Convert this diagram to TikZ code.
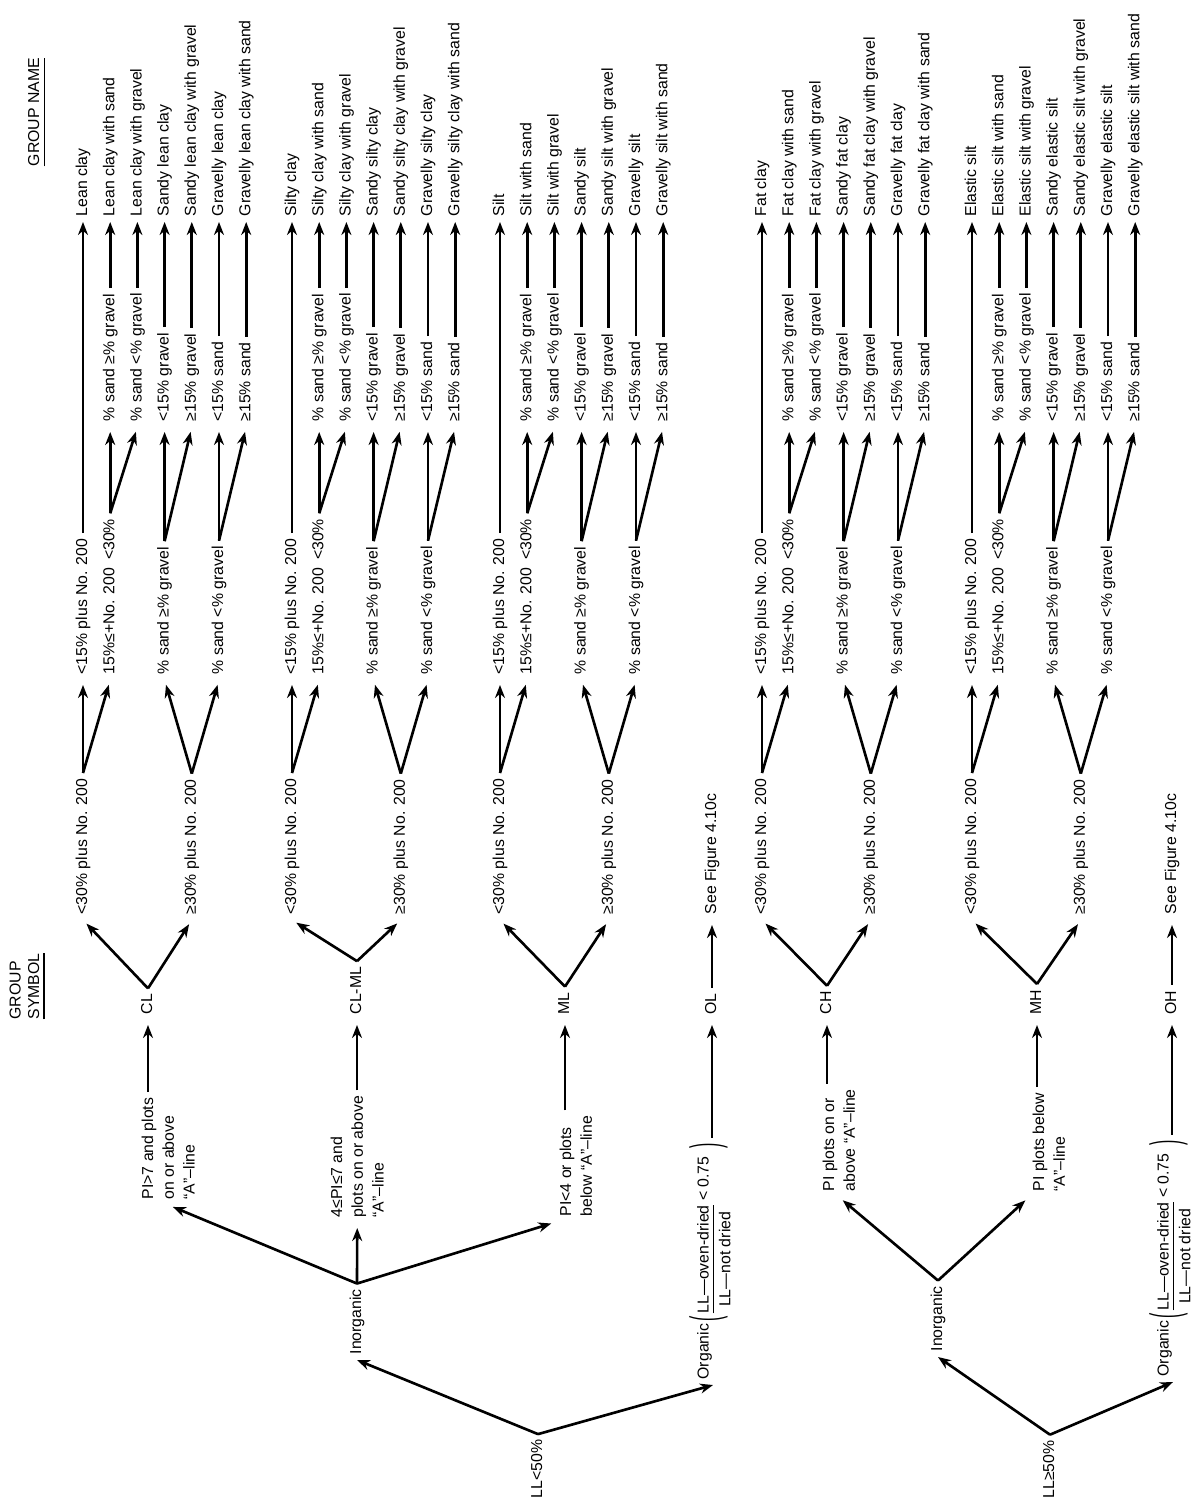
\documentclass[tikz,border=0pt]{standalone}
\usepackage{fontspec}
\usepackage{graphicx}
\setmainfont{Liberation Sans}
\usetikzlibrary{arrows.meta}

\begin{document}
\begin{tikzpicture}[
    x=1cm, y=-1cm,
    lbl/.style={rotate=90, anchor=west, inner xsep=0.5mm, inner ysep=0.3mm, font=\fontsize{4.5}{5.9}\selectfont},
    soil/.style={lbl, text height=3.3pt, text depth=0.95pt},
    cond/.style={lbl, align=left, anchor=north west},
    arrow/.style={-{Stealth[length=1.3mm, width=1mm]}, line width=0.75pt},
    gap/.style={shorten >=0.5mm}
]
\useasboundingbox (0,0) rectangle (11.91,15.04);

% Column headings
\node[soil] (gname) at (0.35, 1.72) {\underline{GROUP NAME}};
\node[cond, font=\fontsize{4.5}{5.2}\selectfont] (gsym) at (0.06, 10.25) {GROUP\\\underline{SYMBOL}};

% Group symbol -> fines -> sand/gravel -> group name
\foreach \gp/\row/\sym/\Nm/\nm in {cl/0.83/CL/Lean clay/lean clay, cm/2.92/CL-ML/Silty clay/silty clay, ml/5.00/ML/Silt/silt, ch/7.62/CH/Fat clay/fat clay, mh/9.72/MH/Elastic silt/elastic silt}{
    \node[soil] (\gp-sym) at (\row+0.65, 10.20) {\sym};

    \node[soil] (\gp-lt30) at (\row, 9.20) {<30\% plus No. 200};
    \node[soil] (\gp-ge30) at (\row+1.088, 9.20) {≥30\% plus No. 200};

    \node[soil] (\gp-lt15) at (\row, 6.80) {<15\% plus No. 200};
    \node[soil] (\gp-mid) at (\row+0.272, 6.80) {15\%≤+No. 200\enspace<30\%};
    \node[soil] (\gp-sge) at (\row+0.816, 6.80) {\% sand ≥\% gravel};
    \node[soil] (\gp-slt) at (\row+1.36, 6.80) {\% sand <\% gravel};

    \node[soil] (\gp-c1) at (\row+0.272, 4.27) {\% sand ≥\% gravel};
    \node[soil] (\gp-c2) at (\row+0.544, 4.27) {\% sand <\% gravel};
    \node[soil] (\gp-c3) at (\row+0.816, 4.27) {<15\% gravel};
    \node[soil] (\gp-c4) at (\row+1.088, 4.27) {≥15\% gravel};
    \node[soil] (\gp-c5) at (\row+1.36, 4.27) {<15\% sand};
    \node[soil] (\gp-c6) at (\row+1.632, 4.27) {≥15\% sand};

    \node[soil] (\gp-n0) at (\row, 2.22) {\Nm};
    \node[soil] (\gp-n1) at (\row+0.272, 2.22) {\Nm{} with sand};
    \node[soil] (\gp-n2) at (\row+0.544, 2.22) {\Nm{} with gravel};
    \node[soil] (\gp-n3) at (\row+0.816, 2.22) {Sandy \nm};
    \node[soil] (\gp-n4) at (\row+1.088, 2.22) {Sandy \nm{} with gravel};
    \node[soil] (\gp-n5) at (\row+1.36, 2.22) {Gravelly \nm};
    \node[soil] (\gp-n6) at (\row+1.632, 2.22) {Gravelly \nm{} with sand};

    \draw[arrow, gap] (\gp-sym.east) -- (\gp-lt30.west);
    \draw[arrow, gap] (\gp-sym.east) -- (\gp-ge30.west);
    \draw[arrow, gap] (\gp-lt30.east) -- (\gp-lt15.west);
    \draw[arrow, gap] (\gp-lt30.east) -- (\gp-mid.west);
    \draw[arrow, gap] (\gp-ge30.east) -- (\gp-sge.west);
    \draw[arrow, gap] (\gp-ge30.east) -- (\gp-slt.west);
    \draw[arrow, gap] (\gp-mid.east) -- (\gp-c1.west);
    \draw[arrow, gap] (\gp-mid.east) -- (\gp-c2.west);
    \draw[arrow, gap] (\gp-sge.east) -- (\gp-c3.west);
    \draw[arrow, gap] (\gp-sge.east) -- (\gp-c4.west);
    \draw[arrow, gap] (\gp-slt.east) -- (\gp-c5.west);
    \draw[arrow, gap] (\gp-slt.east) -- (\gp-c6.west);
    \draw[arrow] (\gp-lt15.east) -- (\gp-n0.west);
    \foreach \k in {1,...,6}
        \draw[arrow] (\gp-c\k.east) -- (\gp-n\k.west);
}

% LL < 50%
\node[soil] (root1) at (5.38, 15.04) {LL<50\%};
\node[soil] (inorg1) at (3.57, 13.60) {Inorganic};
\node[lbl] (org1) at (7.13, 13.85) {Organic\,\raisebox{-3pt}{\scalebox{1}[2.6]{(}}\,\begin{tabular}[t]{@{}c@{}}\underline{LL—oven-dried}\\[0.2pt]LL—not dried\end{tabular} < 0.75\enspace\raisebox{-3pt}{\scalebox{1}[2.6]{)}}};

\node[cond] (pi7) at (1.38, 12.05) {PI>7 and plots\\on or above\\“A”–line};
\node[cond] (pi47) at (3.27, 12.23) {4≤PI≤7 and\\plots on or above\\“A”–line};
\node[cond] (pi4) at (5.56, 12.22) {PI<4 or plots\\below “A”–line};

\node[soil] (ol) at (7.12, 10.20) {OL};
\node[soil] (see1) at (7.12, 9.20) {See Figure 4.10c};

\draw[arrow] (root1.east) -- (inorg1.west);
\draw[arrow] (root1.east) -- (org1.west);
\draw[arrow, gap] (inorg1.east) -- (pi7.west);
\draw[arrow, gap] (inorg1.east) -- (pi47.west);
\draw[arrow, gap] (inorg1.east) -- (pi4.north west);
\draw[arrow, gap] (cl-sym.west |- pi7.east) -- (cl-sym.west);
\draw[arrow, gap] (cm-sym.west |- pi47.east) -- (cm-sym.west);
\draw[arrow, gap] (ml-sym.west |- pi4.east) -- (ml-sym.west);
\draw[arrow, gap] (ol.west |- org1.east) -- (ol.west);
\draw[arrow, gap] (ol.east) -- (see1.west);

% LL >= 50%
\node[soil] (root2) at (10.50, 15.04) {LL≥50\%};
\node[soil] (inorg2) at (9.38, 13.57) {Inorganic};
\node[lbl] (org2) at (11.73, 13.82) {Organic\,\raisebox{-3pt}{\scalebox{1}[2.6]{(}}\,\begin{tabular}[t]{@{}c@{}}\underline{LL—oven-dried}\\[0.2pt]LL—not dried\end{tabular} < 0.75\enspace\raisebox{-3pt}{\scalebox{1}[2.6]{)}}};

\node[cond] (pia) at (8.19, 11.97) {PI plots on or\\above “A”–line};
\node[cond] (pib) at (10.29, 11.97) {PI plots below\\“A”–line};

\node[soil] (oh) at (11.72, 10.20) {OH};
\node[soil] (see2) at (11.72, 9.20) {See Figure 4.10c};

\draw[arrow] (root2.east) -- (inorg2.west);
\draw[arrow] (root2.east) -- (org2.west);
\draw[arrow, gap] (inorg2.east) -- (pia.west);
\draw[arrow, gap] (inorg2.east) -- (pib.north west);
\draw[arrow, gap] (ch-sym.west |- pia.east) -- (ch-sym.west);
\draw[arrow, gap] (mh-sym.west |- pib.east) -- (mh-sym.west);
\draw[arrow, gap] (oh.west |- org2.east) -- (oh.west);
\draw[arrow, gap] (oh.east) -- (see2.west);

\end{tikzpicture}
\end{document}
